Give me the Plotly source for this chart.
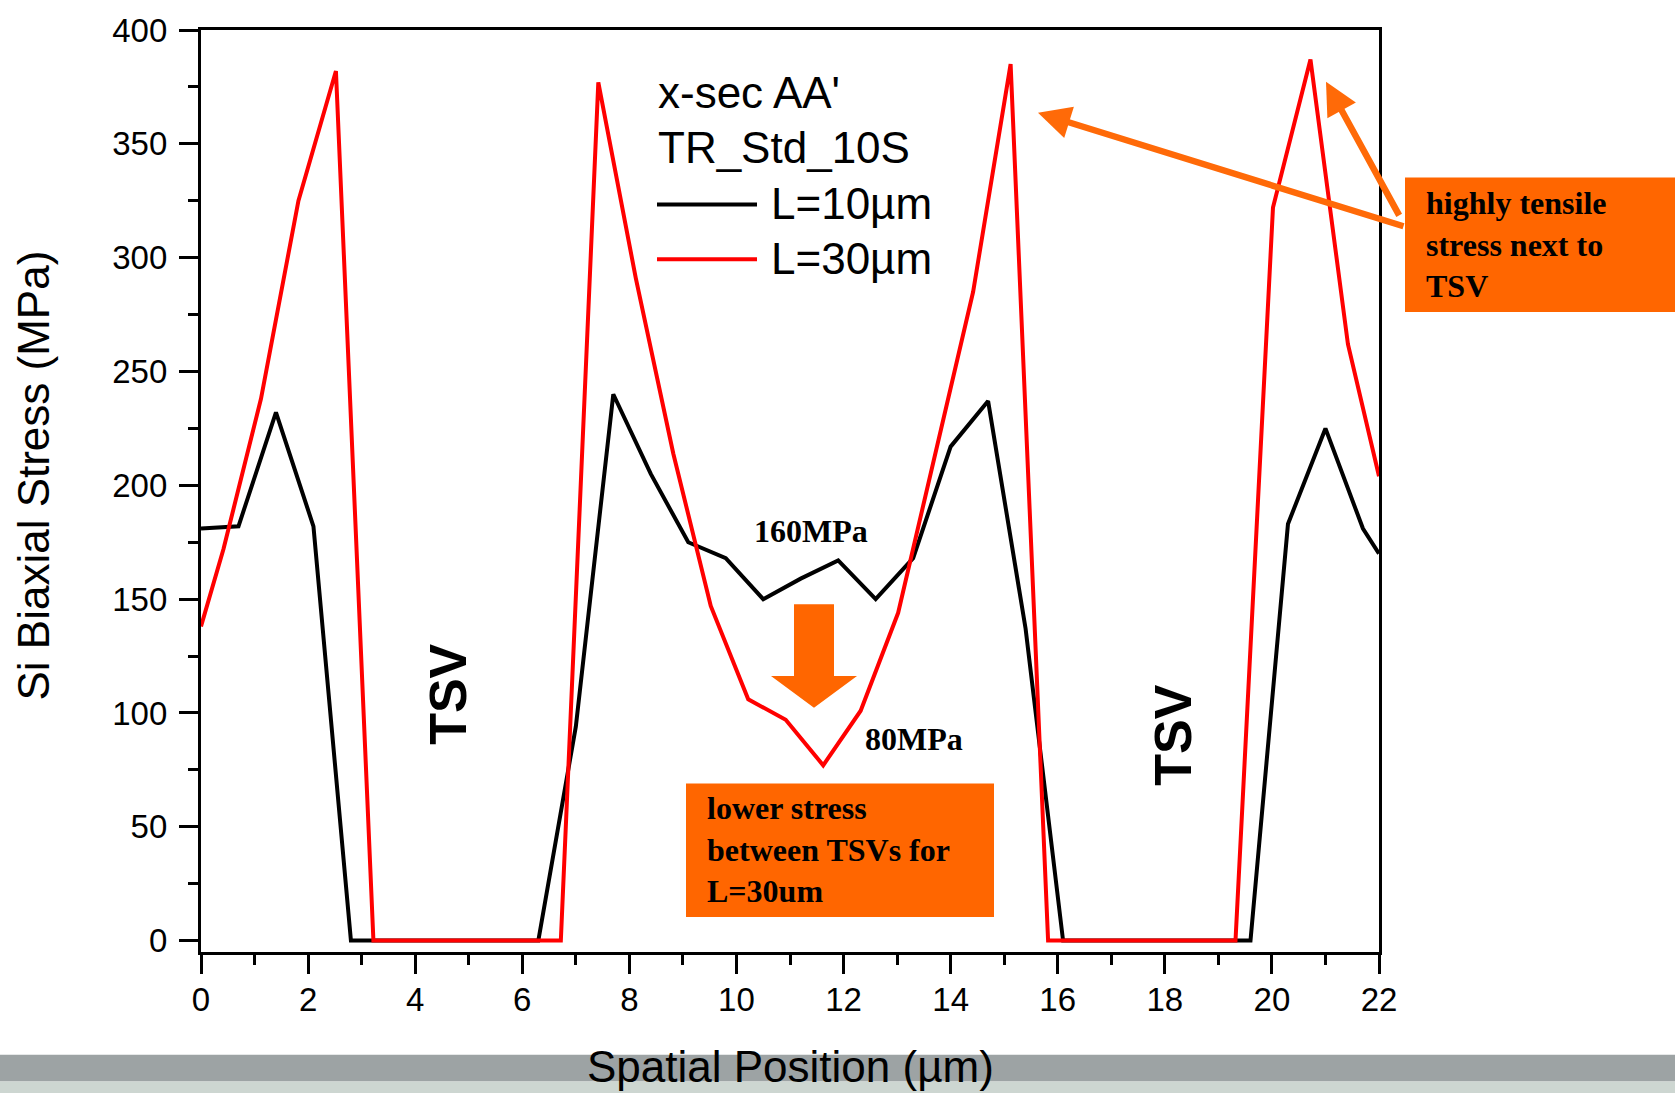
import plotly.graph_objects as go

# ---------------- data ----------------
x_l10 = [0, 0.7, 1.4, 2.1, 2.8, 3.5, 4.2, 4.9, 5.6, 6.3, 7.0, 7.7, 8.4, 9.1, 9.8, 10.5,
         11.2, 11.9, 12.6, 13.3, 14.0, 14.7, 15.4, 16.1, 16.8, 17.5, 18.2, 18.9, 19.6,
         20.3, 21.0, 21.7, 22.0]
y_l10 = [181, 182, 232, 182, 0, 0, 0, 0, 0, 0, 94, 240, 205, 175, 168, 150,
         159, 167, 150, 168, 217, 237, 137, 0, 0, 0, 0, 0, 0,
         183, 225, 181, 170]

x_l30 = [0, 0.42, 1.12, 1.82, 2.52, 3.22, 3.92, 4.62, 5.32, 6.02, 6.72, 7.42, 8.12, 8.82,
         9.52, 10.22, 10.92, 11.62, 12.32, 13.02, 13.72, 14.42, 15.12, 15.82, 16.52, 17.22,
         17.92, 18.62, 19.32, 20.02, 20.72, 21.42, 22.0]
y_l30 = [138, 172, 238, 325, 382, 0, 0, 0, 0, 0, 0, 377, 291, 214,
         147, 106, 97, 77, 101, 144, 214, 285, 385, 0, 0, 0, 0,
         0, 0, 322, 387, 262, 204]

x_ticks = list(range(0, 23, 2))
y_ticks = list(range(0, 401, 50))

series_names = ["L=10\u00b5m", "L=30\u00b5m"]
legend_title = ["x-sec AA'", "TR_Std_10S"]

# ---------------- layout helpers ----------------
W, H = 1675, 1093
L, R, T, B = 201, 1379, 27, 952


def PX(X):
    return (X - L) / (R - L)


def PY(Y):
    return (B - Y) / (B - T)


SANS = "Liberation Sans, Arial, sans-serif"
SERIF = "Liberation Serif, Times New Roman, serif"
ORANGE = "#FF6600"
ARROW = "#FF6A08"

fig = go.Figure()
fig.add_trace(go.Scatter(x=x_l10, y=y_l10, mode="lines", name=series_names[0],
                         line=dict(color="black", width=4), showlegend=False))
fig.add_trace(go.Scatter(x=x_l30, y=y_l30, mode="lines", name=series_names[1],
                         line=dict(color="#FF0000", width=4), showlegend=False))

axis_common = dict(
    showgrid=False, zeroline=False, showline=True, linecolor="black", linewidth=3.3,
    mirror=True, ticks="outside", ticklen=19, tickwidth=3.3, tickcolor="black",
    tickfont=dict(family=SANS, size=33, color="black"),
)

fig.update_xaxes(range=[0, 22], tickvals=x_ticks, ticklabelstandoff=-3,
                 minor=dict(dtick=1, tick0=0, ticks="outside", ticklen=10, tickwidth=3.3,
                            tickcolor="black", showgrid=False),
                 **axis_common)
fig.update_yaxes(range=[-5, 400], tickvals=y_ticks, ticklabelstandoff=5,
                 minor=dict(dtick=25, tick0=0, ticks="outside", ticklen=10, tickwidth=3.3,
                            tickcolor="black", showgrid=False),
                 **axis_common)

shapes = []
# bottom grey bands
shapes.append(dict(type="rect", xref="paper", yref="paper", x0=PX(-10), x1=PX(1700),
                   y0=PY(1055), y1=PY(1082), fillcolor="#9DA3A4", line=dict(width=0),
                   layer="below"))
shapes.append(dict(type="rect", xref="paper", yref="paper", x0=PX(-10), x1=PX(1700),
                   y0=PY(1082), y1=PY(1110), fillcolor="#CDD6D1", line=dict(width=0),
                   layer="below"))
# legend line samples
shapes.append(dict(type="line", xref="paper", yref="paper", x0=PX(657), x1=PX(757),
                   y0=PY(202), y1=PY(202), line=dict(color="black", width=4)))
shapes.append(dict(type="line", xref="paper", yref="paper", x0=PX(657), x1=PX(757),
                   y0=PY(257), y1=PY(257), line=dict(color="#FF0000", width=4)))
# orange boxes
shapes.append(dict(type="rect", xref="paper", yref="paper", x0=PX(686), x1=PX(994),
                   y0=PY(917), y1=PY(783), fillcolor=ORANGE, line=dict(width=0)))
shapes.append(dict(type="rect", xref="paper", yref="paper", x0=PX(1405), x1=PX(1700),
                   y0=PY(310), y1=PY(175), fillcolor=ORANGE, line=dict(width=0)))
# down arrow
pts = [(794, 603), (834, 603), (834, 675), (857, 675), (814, 707), (771, 675), (794, 675)]
path = "M " + " L ".join(f"{PX(a):.5f},{PY(b):.5f}" for a, b in pts) + " Z"
shapes.append(dict(type="path", xref="paper", yref="paper", path=path,
                   fillcolor=ORANGE, line=dict(width=0)))

annotations = []


def text(X, Y, s, size, family=SANS, anchor="left", bold=False, angle=0):
    if bold:
        s = "<b>" + s + "</b>"
    annotations.append(dict(xref="paper", yref="paper", x=PX(X), y=PY(Y), text=s,
                            showarrow=False, xanchor=anchor, yanchor="middle",
                            textangle=angle, align="left",
                            font=dict(family=family, size=size, color="black")))


# legend texts
text(656, 90, legend_title[0], 44)
text(656, 145, legend_title[1], 44)
text(769, 201, series_names[0], 44)
text(769, 256, series_names[1], 44)
# axis titles
text(790, 1067, "Spatial Position (\u00b5m)", 44, anchor="center")
text(34, 474, "Si Biaxial Stress (MPa)", 44, anchor="center", angle=-90)
# TSV labels
text(448, 694, "TSV", 52, anchor="center", bold=True, angle=-90)
text(1173, 735, "TSV", 52, anchor="center", bold=True, angle=-90)
# value labels
text(811, 530, "160MPa", 32, family=SERIF, anchor="center", bold=True)
text(914, 738, "80MPa", 32, family=SERIF, anchor="center", bold=True)
# box texts
text(705, 849, "lower stress<br>between TSVs for<br>L=30um", 32, family=SERIF, bold=True)
text(1424, 242, "highly tensile<br>stress next to<br>TSV", 32, family=SERIF, bold=True)

# arrows
for tipX, tipY, tailX, tailY in [(1038, 110, 1405, 224), (1326, 79, 1400, 214)]:
    annotations.append(dict(xref="paper", yref="paper", x=PX(tipX), y=PY(tipY),
                            ax=tailX - tipX, ay=tailY - tipY, text="", showarrow=True,
                            arrowhead=2, arrowsize=1.0, arrowwidth=6.5, arrowcolor=ARROW))

fig.update_layout(width=W, height=H, margin=dict(l=L, r=W - R, t=T, b=H - B, pad=0),
                  paper_bgcolor="white", plot_bgcolor="white",
                  shapes=shapes, annotations=annotations, showlegend=False)

fig.write_html("out.html")
